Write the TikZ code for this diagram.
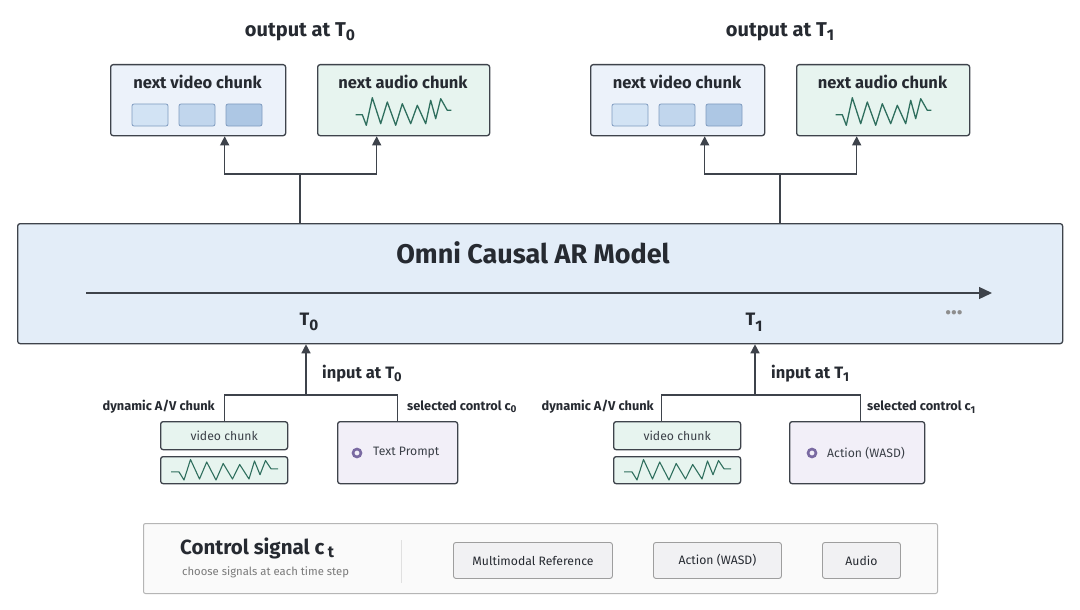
\documentclass[tikz,border=0pt]{standalone}
\usepackage{fontspec}
\usepackage{graphicx}
\setmainfont{Fira Sans}
\usetikzlibrary{arrows.meta}
\definecolor{edge}{HTML}{3E434B}
\definecolor{txt}{HTML}{262A31}
\definecolor{modelfill}{HTML}{E3EDF8}
\definecolor{vidfill}{HTML}{ECF2FA}
\definecolor{audfill}{HTML}{E7F4EF}
\definecolor{sqa}{HTML}{D2E3F4}
\definecolor{sqb}{HTML}{C1D6ED}
\definecolor{sqc}{HTML}{ADC7E4}
\definecolor{sqedge}{HTML}{7F9BBF}
\definecolor{wavec}{HTML}{2F6F5E}
\definecolor{ctlfill}{HTML}{F2EFF8}
\definecolor{bullet}{HTML}{7A6AA2}
\definecolor{panelfill}{HTML}{FAFAFA}
\definecolor{paneledge}{HTML}{B5B5B5}
\definecolor{btnfill}{HTML}{F1F1F3}
\definecolor{btnedge}{HTML}{9E9E9E}
\definecolor{subgray}{HTML}{7A7A7A}
\definecolor{soft}{HTML}{3A3F47}
\newcommand\fsz[1]{\fontsize{#1}{#1}\selectfont}
\newcommand\lsub[1]{\raisebox{-0.35ex}{\scalebox{0.78}{#1}}}
\newcommand\tsub[1]{\raisebox{-0.6ex}{\scalebox{0.85}{#1}}}
\begin{document}
\begin{tikzpicture}[x=1pt,y=-1pt,
  box/.style={draw=edge, line width=1.3pt, rounded corners=2.5pt, inner sep=0pt, anchor=north west},
  vid/.style={box, fill=vidfill},
  aud/.style={box, fill=audfill},
  ctl/.style={box, fill=ctlfill},
  model/.style={box, fill=modelfill},
  sq/.style={draw=sqedge, line width=0.8pt, rounded corners=2pt, minimum width=36pt, minimum height=22pt, inner sep=0pt},
  conn/.style={draw=edge, line width=1.3pt},
  arr/.style={conn, -{Triangle[length=9pt,width=9pt]}},
  htitle/.style={font=\bfseries\fsz{20}, text=txt, inner sep=0pt},
  btitle/.style={font=\bfseries\fsz{16.5}, text=txt, inner sep=0pt},
  small/.style={font=\fsz{12.2}, text=soft, inner sep=0pt},
  smallb/.style={font=\bfseries\fsz{12.8}, text=txt, inner sep=0pt},
  panel/.style={draw=paneledge, fill=panelfill, line width=1pt, rounded corners=2pt, inner sep=0pt, anchor=north west},
  btn/.style={draw=btnedge, fill=btnfill, line width=0.9pt, rounded corners=2.5pt, inner sep=0pt, anchor=north west, font=\fsz{12.2}, text=txt},
  wave/.pic={\draw[wavec, line width=1.3pt, line join=round, sharp corners]
     (-47.3,2.7)--(-40.7,2.7)--(-36.7,13.3)--(-30.7,-14.3)--(-22.3,11.7)--(-15.7,-10)--(-7.3,13.3)--(-0.7,-8.3)--(7.7,11.7)--(14.3,-6.7)--(22.7,11.7)--(27.7,-11.7)--(32.7,6.7)--(37.7,-13.3)--(44.3,-1.7)--(48.3,-1.7);},
  swave/.pic={\draw[wavec, line width=1.1pt, line join=round, sharp corners]
     (-53,1.9)--(-45,1.9)--(-40,10)--(-33.5,-10.5)--(-24.5,9)--(-17.3,-8)--(-8,10)--(-0.8,-6.5)--(8.5,9)--(15.7,-5.5)--(25,9)--(30.5,-9)--(36,4.7)--(41.5,-9.5)--(47,-1.2)--(54,-1.2);}
]
\useasboundingbox[fill=white] (0,0) rectangle (1080,610);

% ---------- outputs ----------
\node[htitle] (ot0) at (300,32) {output at T\lsub{0}};
\node[htitle] (ot1) at (780,32) {output at T\lsub{1}};

\node[vid, minimum width=175pt, minimum height=71pt] (v0) at (110,64) {};
\node[aud, minimum width=172pt, minimum height=71pt] (a0) at (317,64) {};
\node[vid, minimum width=174pt, minimum height=71pt] (v1) at (590,64) {};
\node[aud, minimum width=173pt, minimum height=71pt] (a1) at (796,64) {};

\node[btitle] (v0t) at (197.5,82) {next video chunk};
\node[btitle] (a0t) at (403,82) {next audio chunk};
\node[btitle] (v1t) at (677,82) {next video chunk};
\node[btitle] (a1t) at (882.5,82) {next audio chunk};

\node[sq, fill=sqa] (s01) at (150,115) {};
\node[sq, fill=sqb] (s02) at (197,115) {};
\node[sq, fill=sqc] (s03) at (244,115) {};
\node[sq, fill=sqa] (s11) at (630,115) {};
\node[sq, fill=sqb] (s12) at (677,115) {};
\node[sq, fill=sqc] (s13) at (724,115) {};

\pic at (403,112) {wave};
\pic at (883,112) {wave};

% ---------- model ----------
\node[model, minimum width=1045pt, minimum height=120pt] (m) at (17,223) {};
\node[font=\bfseries\fsz{27}, text=txt, inner sep=0pt] (mt) at (533,253) {Omni Causal AR Model};
\coordinate (tl0) at (86,293);
\coordinate (tl1) at (992,293);
\draw[arr, -{Triangle[length=13pt,width=12pt]}] (tl0) -- (tl1);
\node[font=\bfseries\fsz{18}, text=txt, inner sep=0pt] (t0) at (309,322) {T\tsub{0}};
\node[font=\bfseries\fsz{18}, text=txt, inner sep=0pt] (t1) at (754,322) {T\tsub{1}};
\node[font=\bfseries\fsz{24}, text=subgray!85, inner sep=0pt] (dots) at (954,313) {...};

% ---------- output connectors ----------
\coordinate (o0) at (300,174);
\coordinate (o1) at (780,174);
\draw[conn] (o0 |- m.north) -- (o0);
\draw[arr] (o0) -| ([xshift=26.5pt]v0.south);
\draw[arr] (o0) -| ([xshift=-27pt]a0.south);
\draw[conn] (o1 |- m.north) -- (o1);
\draw[arr] (o1) -| ([xshift=27pt]v1.south);
\draw[arr] (o1) -| ([xshift=-26.5pt]a1.south);

% ---------- inputs ----------
\node[aud, minimum width=127pt, minimum height=28pt] (vc0) at (160,421) {};
\node[small] at (vc0.center) {video chunk};
\node[aud, minimum width=127pt, minimum height=27pt] (wv0) at (160,456) {};
\pic at (224,470) {swave};
\node[ctl, minimum width=120pt, minimum height=62pt] (tp0) at (337,421) {};
\draw[bullet, line width=2.6pt, fill=ctlfill] (357,453) circle (4pt);
\node[small, anchor=west] (tp0t) at (373,453) {Text Prompt};

\node[aud, minimum width=127pt, minimum height=28pt] (vc1) at (613,421) {};
\node[small] at (vc1.center) {video chunk};
\node[aud, minimum width=127pt, minimum height=27pt] (wv1) at (613,456) {};
\pic at (677,470) {swave};
\node[ctl, minimum width=135pt, minimum height=62pt] (ac1) at (789,421) {};
\draw[bullet, line width=2.6pt, fill=ctlfill] (812,453) circle (4pt);
\node[small, anchor=west] (ac1t) at (827,453) {Action (WASD)};

\coordinate (i0) at (306,395);
\coordinate (i1) at (755,395);
\draw[arr] (i0) -- (i0 |- m.south);
\draw[arr] (i1) -- (i1 |- m.south);
\draw[conn] (vc0.north) |- (i0) -| (tp0.north);
\draw[conn] ([xshift=-15.5pt]vc1.north) |- (i1) -| ([xshift=3.5pt]ac1.north);

\node[btitle, anchor=west] (in0) at (322,374) {input at T\lsub{0}};
\node[btitle, anchor=west] (in1) at (771,374) {input at T\lsub{1}};
\node[smallb, anchor=east] (dy0) at (215,407) {dynamic A/V chunk};
\node[smallb, anchor=east] (dy1) at (654,407) {dynamic A/V chunk};
\node[smallb, anchor=west] (sc0) at (407,407) {selected control c\lsub{0}};
\node[smallb, anchor=west] (sc1) at (867,407) {selected control c\lsub{1}};

% ---------- control signal panel ----------
\node[panel, minimum width=794pt, minimum height=70pt] (pn) at (143,523) {};
\node[font=\bfseries\fsz{20.5}, text=txt, inner sep=0pt, anchor=west] (cs) at (180,548) {Control signal c\,\lsub{t}};
\node[font=\fsz{11.3}, text=subgray, inner sep=0pt, anchor=west] (cst) at (182,572) {choose signals at each time step};
\draw[draw=black!12, line width=0.8pt] (401,540) -- (401,583);
\node[btn, minimum width=159pt, minimum height=36pt] (b1) at (453,542) {Multimodal Reference};
\node[btn, minimum width=128pt, minimum height=36pt] (b2) at (653,542) {Action (WASD)};
\node[btn, minimum width=78pt, minimum height=36pt] (b3) at (822,542) {Audio};
\end{tikzpicture}
\end{document}
